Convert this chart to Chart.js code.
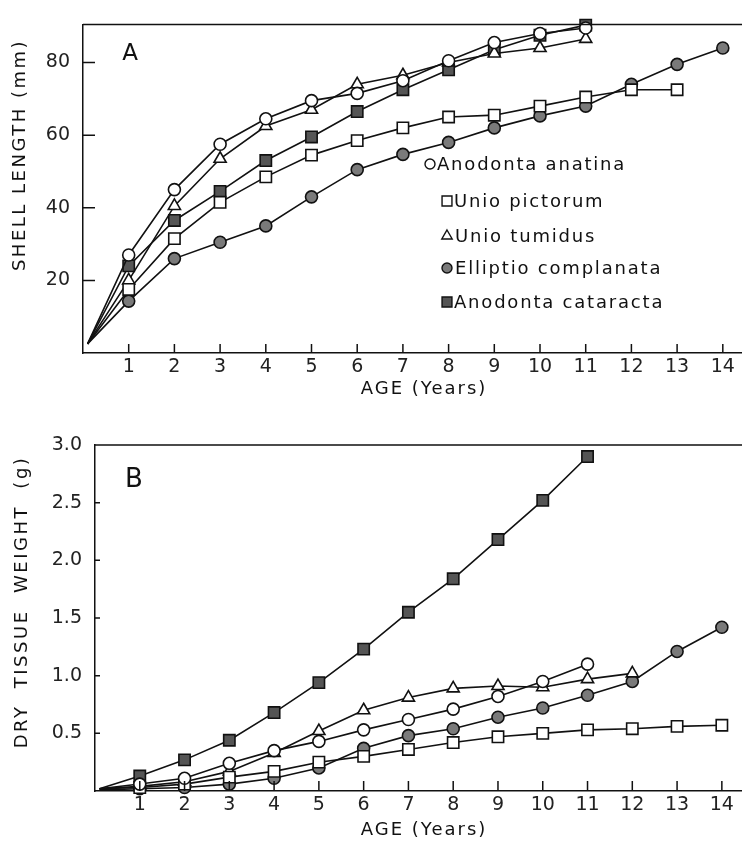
<!DOCTYPE html>
<html>
<head>
<meta charset="utf-8">
<script src="https://cdn.jsdelivr.net/npm/chart.js@4.4.1/dist/chart.umd.min.js"></script>
<style>
  html, body { margin: 0; padding: 0; background: #fff; }
  #wrapA { position: absolute; left: 0; top: 0; }
  #wrapB { position: absolute; left: 0; top: 420px; }
  canvas { display: block; }
</style>
</head>
<body>
<div id="wrapA"><canvas id="chartA" width="742" height="420"></canvas></div>
<div id="wrapB"><canvas id="chartB" width="742" height="424"></canvas></div>
<script>
// ages (years); the first entry is where every curve starts
const ages = [0.1, 1, 2, 3, 4, 5, 6, 7, 8, 9, 10, 11, 12, 13, 14];
const ageTicks = [1, 2, 3, 4, 5, 6, 7, 8, 9, 10, 11, 12, 13, 14];
const lengthTicks = [20, 40, 60, 80];
const weightTicks = [0.5, 1.0, 1.5, 2.0, 2.5, 3.0];
const weightLabels = ['0.5', '1.0', '1.5', '2.0', '2.5', '3.0'];

const species = ['Anodonta anatina', 'Unio pictorum', 'Unio tumidus', 'Elliptio complanata', 'Anodonta cataracta'];

// A: shell length (mm)
const lenAnatina   = [2.5, 27, 45, 57.5, 64.5, 69.5, 71.5, 75, 80.5, 85.5, 88, 89.5];
const lenPictorum  = [2.5, 17.5, 31.5, 41.5, 48.5, 54.5, 58.5, 62, 65, 65.5, 68, 70.5, 72.5, 72.5];
const lenTumidus   = [2.5, 20, 40.5, 53.5, 62.5, 67, 74, 76.5, 80, 82.5, 84, 86.5];
const lenElliptio  = [2.5, 14.3, 26, 30.5, 35, 43, 50.5, 54.7, 58, 62, 65.3, 68, 74, 79.5, 84];
const lenCataracta = [2.5, 24, 36.5, 44.5, 53, 59.5, 66.5, 72.5, 78, 83.5, 87.5, 90.3];

// B: dry tissue weight (g)
const wtAnatina   = [0.02, 0.06, 0.11, 0.24, 0.35, 0.43, 0.53, 0.62, 0.71, 0.82, 0.95, 1.10];
const wtPictorum  = [0.02, 0.03, 0.06, 0.12, 0.17, 0.25, 0.30, 0.36, 0.42, 0.47, 0.50, 0.53, 0.54, 0.56, 0.57];
const wtTumidus   = [0.02, 0.04, 0.08, 0.17, 0.33, 0.52, 0.70, 0.81, 0.89, 0.91, 0.90, 0.97, 1.02];
const wtElliptio  = [0.01, 0.02, 0.03, 0.06, 0.11, 0.20, 0.37, 0.48, 0.54, 0.64, 0.72, 0.83, 0.95, 1.21, 1.42];
const wtCataracta = [0.02, 0.13, 0.27, 0.44, 0.68, 0.94, 1.23, 1.55, 1.84, 2.18, 2.52, 2.90];

const INK = '#111';
const FONT = '"DejaVu Sans", sans-serif';
const markers = [
  { style: 'circle',   fill: '#fff', r: 6 },
  { style: 'rect',     fill: '#fff', r: 8 },
  { style: 'triangle', fill: '#fff', r: 7 },
  { style: 'circle',   fill: '#7a7a7a', r: 6 },
  { style: 'rect',     fill: '#555', r: 8 }
];

function series(i, values) {
  const m = markers[i];
  return {
    label: species[i],
    data: values.map((v, k) => ({ x: ages[k], y: v })),
    borderColor: INK,
    borderWidth: 1.6,
    pointStyle: m.style,
    pointBackgroundColor: m.fill,
    pointBorderColor: INK,
    pointBorderWidth: 1.6,
    pointRadius: c => c.dataIndex === 0 ? 0 : m.r,
    tension: 0,
    clip: false
  };
}

// frame, inward ticks and titles
const frame = {
  id: 'frame',
  afterDraw(chart, args, o) {
    const { ctx, chartArea: a } = chart;
    const x = chart.scales.x, y = chart.scales.y;
    ctx.save();
    ctx.strokeStyle = INK;
    ctx.lineWidth = 1.5;
    ctx.beginPath();
    ctx.moveTo(a.left, a.top);
    ctx.lineTo(a.right, a.top);
    ageTicks.forEach(v => {
      const px = x.getPixelForValue(v);
      ctx.moveTo(px, a.bottom);
      ctx.lineTo(px, a.bottom - o.xTick);
    });
    o.yTicks.forEach(v => {
      const py = y.getPixelForValue(v);
      ctx.moveTo(a.left, py);
      ctx.lineTo(a.left + o.yTick, py);
    });
    ctx.stroke();

    ctx.fillStyle = INK;
    ctx.textAlign = 'center';
    ctx.textBaseline = 'middle';
    ctx.font = '18px ' + FONT;
    ctx.letterSpacing = '2px';
    ctx.fillText('AGE (Years)', o.xTitle[0], o.xTitle[1]);
    ctx.save();
    ctx.translate(o.yTitle[0], o.yTitle[1]);
    ctx.rotate(-Math.PI / 2);
    ctx.letterSpacing = '2.5px';
    ctx.fillText(o.yText, 0, 0);
    ctx.restore();
    ctx.letterSpacing = '0px';
    ctx.font = o.panelSize + 'px ' + FONT;
    ctx.fillText(o.panel, o.panelPos[0], o.panelPos[1]);

    if (o.legend) {
      ctx.font = '18px ' + FONT;
      ctx.letterSpacing = '1.8px';
      ctx.textAlign = 'left';
      o.legend.forEach((it, i) => {
        const m = markers[i];
        ctx.fillStyle = m.fill;
        ctx.strokeStyle = INK;
        ctx.lineWidth = 1.4;
        Chart.helpers.drawPoint(ctx, { pointStyle: m.style, radius: it.r, borderWidth: 1.4, rotation: 0 }, it.mx, it.y);
        ctx.fillStyle = INK;
        ctx.fillText(species[i], it.tx, it.y + 1);
      });
    }
    ctx.restore();
  }
};

function axes(yMin, yMax, yTicks, yLabels, yWidth, xMax, xHeight) {
  const tickFont = { family: FONT, size: 19 };
  return {
    x: {
      type: 'linear', min: 0, max: xMax,
      afterBuildTicks: s => { s.ticks = ageTicks.map(v => ({ value: v })); },
      afterFit: s => { s.height = xHeight; },
      grid: { display: false, drawTicks: false },
      border: { color: INK, width: 1.5 },
      ticks: { color: '#222', font: tickFont, padding: 3, maxRotation: 0, autoSkip: false }
    },
    y: {
      min: yMin, max: yMax,
      afterBuildTicks: s => { s.ticks = yTicks.map(v => ({ value: v })); },
      afterFit: s => { s.width = yWidth; },
      grid: { display: false, drawTicks: false },
      border: { color: INK, width: 1.5 },
      ticks: { color: '#222', font: tickFont, padding: 13, callback: (v, i) => yLabels[i] }
    }
  };
}

const common = {
  responsive: false,
  animation: false,
  events: []
};

new Chart(document.getElementById('chartA'), {
  type: 'line',
  data: {
    datasets: [
      series(0, lenAnatina),
      series(1, lenPictorum),
      series(2, lenTumidus),
      series(3, lenElliptio),
      series(4, lenCataracta)
    ]
  },
  options: Object.assign({}, common, {
    layout: { autoPadding: false, padding: { top: 11, right: 0, bottom: 0, left: 0 } },
    scales: axes(0, 90.5, lengthTicks, lengthTicks.map(String), 83, 14.42, 67),
    plugins: {
      legend: { display: false },
      tooltip: { enabled: false },
      frame: {
        xTick: 9, yTick: 12, yTicks: lengthTicks,
        xTitle: [424, 389], yTitle: [20, 155], yText: 'SHELL LENGTH (mm)',
        panel: 'A', panelSize: 23, panelPos: [130, 54],
        legend: [
          { mx: 430, tx: 437, y: 164, r: 5 },
          { mx: 447, tx: 454, y: 201, r: 7 },
          { mx: 447, tx: 455, y: 236, r: 6 },
          { mx: 447, tx: 455, y: 268, r: 5 },
          { mx: 447, tx: 454, y: 302, r: 7 }
        ]
      }
    }
  }),
  plugins: [frame]
});

new Chart(document.getElementById('chartB'), {
  type: 'line',
  data: {
    datasets: [
      series(0, wtAnatina),
      series(1, wtPictorum),
      series(2, wtTumidus),
      series(3, wtElliptio),
      series(4, wtCataracta)
    ]
  },
  options: Object.assign({}, common, {
    layout: { autoPadding: false, padding: { top: 25, right: 0, bottom: 0, left: 0 } },
    scales: axes(0, 3.0, weightTicks, weightLabels, 95, 14.45, 53),
    plugins: {
      legend: { display: false },
      tooltip: { enabled: false },
      frame: {
        xTick: 10, yTick: 5, yTicks: weightTicks,
        xTitle: [424, 410], yTitle: [22, 182], yText: 'DRY  TISSUE  WEIGHT  (g)',
        panel: 'B', panelSize: 26, panelPos: [134, 60]
      }
    }
  }),
  plugins: [frame]
});
</script>
</body>
</html>
